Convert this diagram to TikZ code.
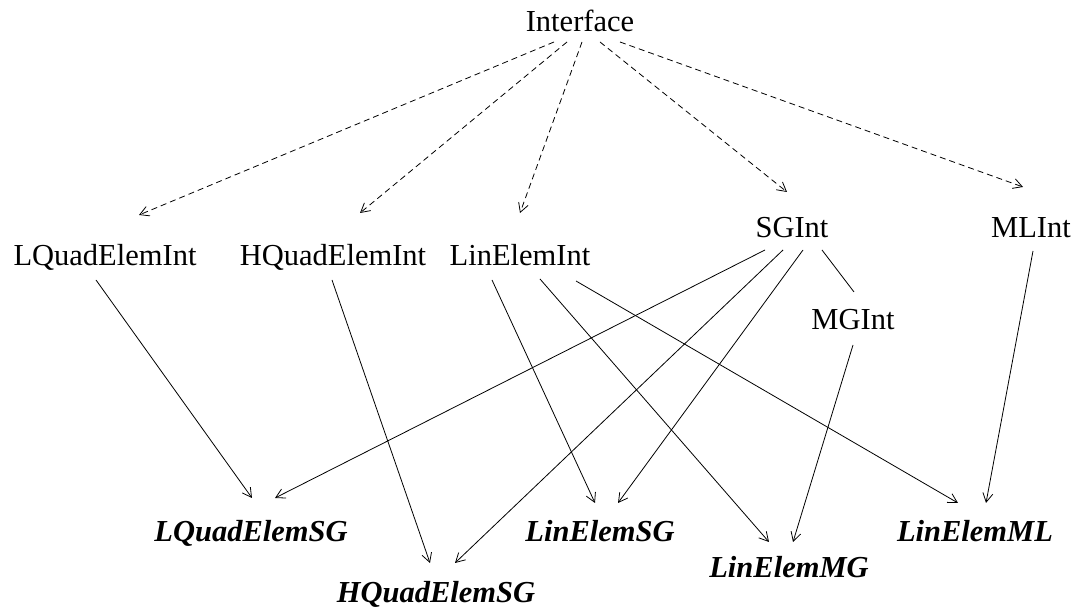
\documentclass[tikz,border=0pt]{standalone}
\usepackage{fontspec}
\setmainfont{Liberation Serif}
\usetikzlibrary{arrows.meta}

\begin{document}
\begin{tikzpicture}[x=1pt,y=1pt,
  every node/.style={inner sep=0pt,text height=20pt,text depth=0pt,font=\fontsize{30.5}{36}\selectfont},
  impl/.style={font=\fontsize{30.5}{36}\selectfont\bfseries\itshape},
  link/.style={line width=0.8pt,-{Straight Barb[length=9pt,width=10pt]}},
  inherit/.style={link,dash pattern=on 6pt off 4pt}]
\useasboundingbox (0,0) rectangle (1077,607);
\path (580,585) node (Interface) {Interface};
\path (105,351) node (LQuadElemInt) {LQuadElemInt};
\path (333,351) node (HQuadElemInt) {HQuadElemInt};
\path (520,351) node (LinElemInt) {LinElemInt};
\path (792,379) node (SGInt) {SGInt};
\path (1031,379) node (MLInt) {MLInt};
\path (853,287) node (MGInt) {MGInt};
\path (251,75) node[impl] (LQuadElemSG) {LQuadElemSG};
\path (436,14) node[impl] (HQuadElemSG) {HQuadElemSG};
\path (600,75) node[impl] (LinElemSG) {LinElemSG};
\path (789,39) node[impl] (LinElemMG) {LinElemMG};
\path (975,75) node[impl] (LinElemML) {LinElemML};
\draw[inherit] ([xshift=-26pt,yshift=-20pt]Interface.center) -- ([xshift=34pt,yshift=41pt]LQuadElemInt.center);
\draw[inherit] ([xshift=-13pt,yshift=-20pt]Interface.center) -- ([xshift=27pt,yshift=43pt]HQuadElemInt.center);
\draw[inherit] ([xshift=2pt,yshift=-20pt]Interface.center) -- ([xshift=0pt,yshift=43pt]LinElemInt.center);
\draw[inherit] ([xshift=20pt,yshift=-20pt]Interface.center) -- ([xshift=-5pt,yshift=36pt]SGInt.center);
\draw[inherit] ([xshift=40pt,yshift=-20pt]Interface.center) -- ([xshift=-8pt,yshift=41pt]MLInt.center);
\draw[link] ([xshift=-9pt,yshift=-24pt]LQuadElemInt.center) -- ([xshift=1pt,yshift=34pt]LQuadElemSG.center);
\draw[link] ([xshift=-1pt,yshift=-24pt]HQuadElemInt.center) -- ([xshift=-6pt,yshift=30pt]HQuadElemSG.center);
\draw[link] ([xshift=-28pt,yshift=-24pt]LinElemInt.center) -- ([xshift=-5pt,yshift=29pt]LinElemSG.center);
\draw[link] ([xshift=20pt,yshift=-23pt]LinElemInt.center) -- ([xshift=-20pt,yshift=26pt]LinElemMG.center);
\draw[link] ([xshift=56pt,yshift=-25pt]LinElemInt.center) -- ([xshift=-17pt,yshift=29pt]LinElemML.center);
\draw[link] ([xshift=-27pt,yshift=-22pt]SGInt.center) -- ([xshift=24pt,yshift=34pt]LQuadElemSG.center);
\draw[link] ([xshift=-9pt,yshift=-22pt]SGInt.center) -- ([xshift=19pt,yshift=30pt]HQuadElemSG.center);
\draw[link] ([xshift=11pt,yshift=-22pt]SGInt.center) -- ([xshift=18pt,yshift=29pt]LinElemSG.center);
\draw[line width=0.8pt] ([xshift=30pt,yshift=-22pt]SGInt.center) -- ([xshift=1pt,yshift=28pt]MGInt.center);
\draw[link] ([xshift=0pt,yshift=-25pt]MGInt.center) -- ([xshift=4pt,yshift=26pt]LinElemMG.center);
\draw[link] ([xshift=2pt,yshift=-23pt]MLInt.center) -- ([xshift=11pt,yshift=29pt]LinElemML.center);
\end{tikzpicture}
\end{document}
